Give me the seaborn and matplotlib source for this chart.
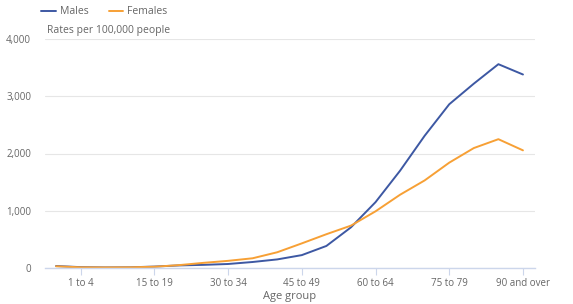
import matplotlib
matplotlib.use("Agg")
import matplotlib.pyplot as plt
import seaborn as sns
import pandas as pd
from matplotlib.ticker import FuncFormatter
from matplotlib.lines import Line2D

age_groups = ["Under 1", "1 to 4", "5 to 9", "10 to 14", "15 to 19", "20 to 24",
              "25 to 29", "30 to 34", "35 to 39", "40 to 44", "45 to 49", "50 to 54",
              "55 to 59", "60 to 64", "65 to 69", "70 to 74", "75 to 79", "80 to 84",
              "85 to 89", "90 and over"]
males = [35, 15, 10, 12, 25, 45, 55, 70, 105, 150, 225, 385, 710, 1150, 1700,
         2310, 2860, 3220, 3560, 3380]
females = [30, 12, 10, 12, 22, 50, 90, 125, 170, 275, 430, 590, 740, 990, 1280,
           1530, 1840, 2095, 2250, 2055]
series_names = ["Males", "Females"]
colors = ["#3d58a3", "#f7a035"]
y_ticks = [0, 1000, 2000, 3000, 4000]

df = pd.DataFrame({
    "Age group": age_groups * 2,
    "Rate": males + females,
    "Sex": [series_names[0]] * len(age_groups) + [series_names[1]] * len(age_groups),
})

sns.set_theme(style="white")
plt.rcParams["font.family"] = ["Open Sans", "DejaVu Sans"]

fig = plt.figure(figsize=(5.73, 3.04), dpi=100)
ax = fig.add_axes([45 / 573, 1 - 268 / 304, 490 / 573, 229 / 304])

sns.lineplot(data=df, x="Age group", y="Rate", hue="Sex", palette=colors,
             sort=False, linewidth=1.4, ax=ax, legend=False)

n = len(age_groups)
ax.set_xlim(-0.45, n - 1 + 0.49)
ax.set_ylim(0, 4000)
ax.set_yticks(y_ticks)
ax.yaxis.set_major_formatter(FuncFormatter(lambda v, p: f"{int(v):,}"))
tick_idx = list(range(1, n, 3))
ax.set_xticks(tick_idx)
ax.set_xticklabels([age_groups[i] for i in tick_idx])

text_color = "#666666"
ax.tick_params(axis="y", length=0, labelsize=7, labelcolor=text_color, pad=10)
ax.tick_params(axis="x", length=5, width=0.8, color="#ccd6eb", labelsize=7,
               labelcolor=text_color, pad=2, direction="out", bottom=True)
ax.grid(axis="y", color="#e6e6e6", linewidth=0.8)
ax.grid(axis="x", visible=False)
for s in ["top", "right", "left"]:
    ax.spines[s].set_visible(False)
ax.spines["bottom"].set_color("#ccd6eb")
ax.spines["bottom"].set_linewidth(1.0)
ax.set_axisbelow(True)

ax.set_xlabel("Age group", fontsize=8, color=text_color, labelpad=2)
ax.set_ylabel("")
fig.text(47 / 573, 1 - 31 / 304, "Rates per 100,000 people", fontsize=7.5,
         color=text_color, va="center", ha="left")

handles = [Line2D([0], [0], color=c, lw=1.4) for c in colors]
fig.legend(handles, series_names, loc="center left",
           bbox_to_anchor=(32 / 573, 1 - 12 / 304), ncol=2, frameon=False,
           fontsize=7.5, handlelength=1.4, handletextpad=0.4, columnspacing=1.9,
           labelcolor=text_color)

fig.savefig("out.png", dpi=100)
